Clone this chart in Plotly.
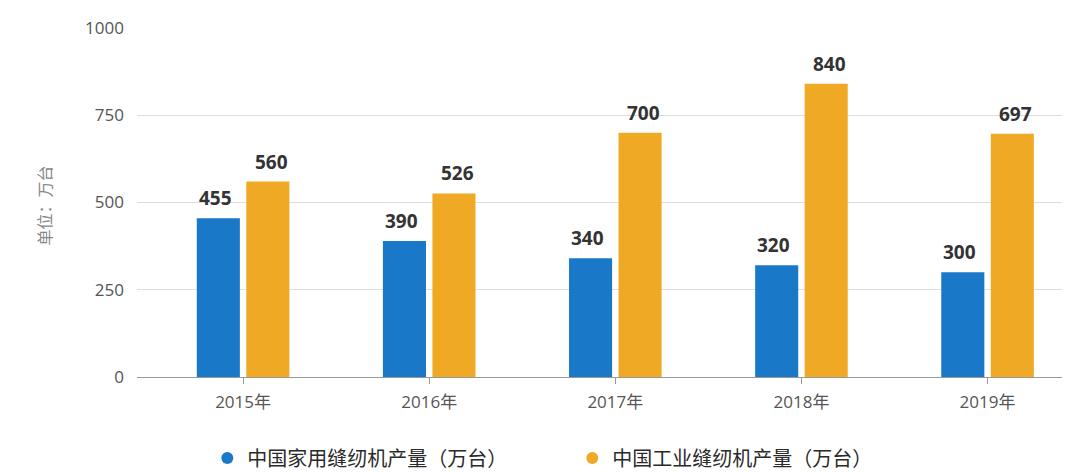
import plotly.graph_objects as go

years = ["2015年", "2016年", "2017年", "2018年", "2019年"]
household = [455, 390, 340, 320, 300]
industrial = [560, 526, 700, 840, 697]
name_household = "中国家用缝纫机产量（万台）"
name_industrial = "中国工业缝纫机产量（万台）"
y_ticks = [0, 250, 500, 750, 1000]

blue = "#1a78c9"
orange = "#f0a925"
font_family = "Open Sans, Noto Sans CJK SC, sans-serif"

fig = go.Figure()
fig.add_trace(go.Bar(x=years, y=household, name=name_household, showlegend=False,
                     marker=dict(color=blue, line=dict(width=0))))
fig.add_trace(go.Bar(x=years, y=industrial, name=name_industrial, showlegend=False,
                     marker=dict(color=orange, line=dict(width=0))))
# legend entries with circle symbols
fig.add_trace(go.Scatter(x=[None], y=[None], mode="markers", name=name_household,
                         marker=dict(color=blue, size=17, symbol="circle")))
fig.add_trace(go.Scatter(x=[None], y=[None], mode="markers", name=name_industrial,
                         marker=dict(color=orange, size=17, symbol="circle")))

offset = 0.15
annotations = []
for i, (h, ind) in enumerate(zip(household, industrial)):
    for dx, v in ((-offset, h), (offset, ind)):
        annotations.append(dict(x=i + dx, y=v, xref="x", yref="y", text=f"<b>{v}</b>",
                                showarrow=False, yanchor="bottom", yshift=5,
                                font=dict(size=19, color="#333333", family=font_family)))

fig.update_layout(
    width=1072, height=472,
    margin=dict(l=137, r=10, t=28, b=95),
    paper_bgcolor="white", plot_bgcolor="white",
    barmode="group", bargap=0.468, bargroupgap=0.13,
    font=dict(family=font_family, color="#555555", size=16),
    annotations=annotations,
    showlegend=True,
    legend=dict(orientation="h", x=0.076, xanchor="left", yref="container",
                y=(472 - 458) / 472, yanchor="middle",
                font=dict(size=20, color="#2a2a2a"), itemsizing="constant",
                traceorder="normal", entrywidth=320),
    xaxis=dict(range=[-0.57, 4.40], showgrid=False, showline=True, linecolor="#999999",
               linewidth=1, ticks="outside", ticklen=6, tickcolor="#999999",
               ticklabelstandoff=4,
               tickfont=dict(size=17, color="#555555")),
    yaxis=dict(range=[0, 1000], tickvals=y_ticks, showgrid=True, gridcolor="#dddddd",
               zeroline=False, showline=False, ticks="", ticklabelstandoff=12,
               tickfont=dict(size=17, color="#555555")),
)
fig.add_annotation(text="单位：万台", xref="paper", yref="paper", x=-0.1, y=0.49,
                   textangle=-90, showarrow=False, xanchor="center", yanchor="middle",
                   font=dict(size=16, color="#888888"))

fig.write_html("out.html")
